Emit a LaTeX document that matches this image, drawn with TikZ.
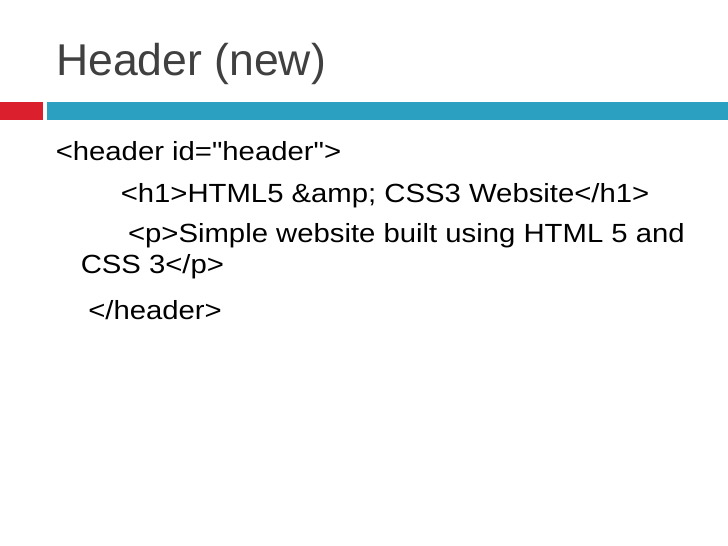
\documentclass[tikz,border=0pt]{standalone}
\usepackage{fontspec}
\newfontfamily\titlefont[Ligatures=TeXOff]{Liberation Sans}
\newfontfamily\bodyfont[Ligatures=TeXOff,FakeStretch=1.115]{Liberation Sans}
\definecolor{titlegray}{HTML}{404040}
\definecolor{barred}{HTML}{DC1F2C}
\definecolor{barteal}{HTML}{2CA0C0}
\begin{document}
\begin{tikzpicture}[x=0.75pt,y=-0.75pt,
  titletext/.style={anchor=base west,inner sep=0pt,font=\titlefont\fontsize{33.4pt}{40pt}\selectfont,text=titlegray},
  bodytext/.style={anchor=base west,inner sep=0pt,font=\bodyfont\fontsize{19.7pt}{24pt}\selectfont,text=black}]
\useasboundingbox[fill=white] (0,0) rectangle (728,546);
\fill[barred] (0,102) rectangle (42.7,120);
\fill[barteal] (46.7,102) rectangle (728,120);
\node[titletext] (title) at (56,75) {Header (new)};
\node[bodytext] (l1) at (55.5,160) {<header id="header">};
\node[bodytext] (l2) at (120.5,202.5) {<h1>HTML5 \&amp; CSS3 Website</h1>};
\node[bodytext] (l3) at (127.8,242.5) {<p>Simple website built using HTML 5 and};
\node[bodytext] (l4) at (80.5,273.5) {CSS 3</p>};
\node[bodytext] (l5) at (88,319) {</header>};
\end{tikzpicture}
\end{document}
